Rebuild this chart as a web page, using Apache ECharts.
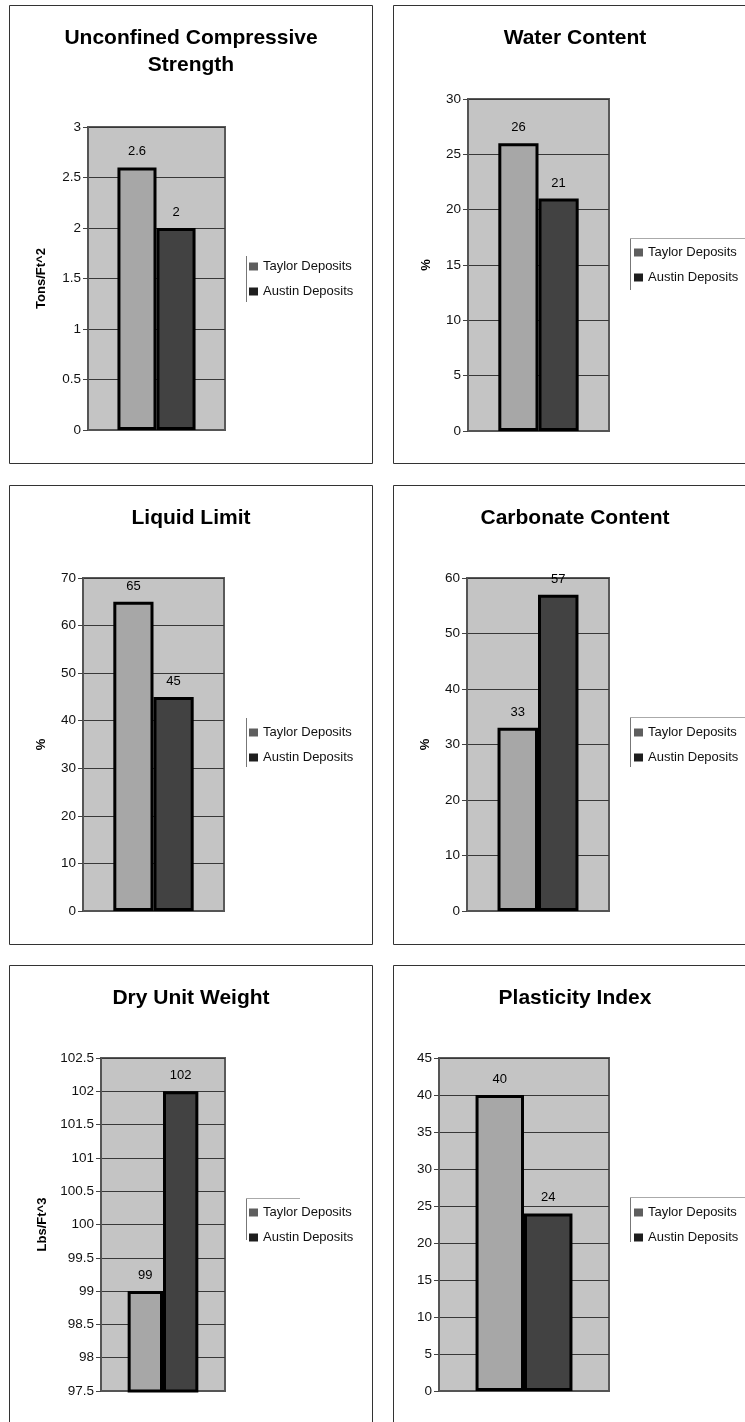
<!DOCTYPE html>
<html>
<head>
<meta charset="utf-8">
<script src="https://cdn.jsdelivr.net/npm/echarts@6/dist/echarts.min.js"></script>
<style>
html,body{margin:0;padding:0;background:#fff;}
#chart{width:745px;height:1422px;}
</style>
</head>
<body>
<div id="chart"></div>
<script>
// ---- data ----
const seriesNames = ['Taylor Deposits', 'Austin Deposits'];
const categories = [''];
const titles = ['Unconfined Compressive\nStrength', 'Water Content', 'Liquid Limit', 'Carbonate Content', 'Dry Unit Weight', 'Plasticity Index'];
const yUnits = ['Tons/Ft^2', '%', '%', '%', 'Lbs/Ft^3', ''];
const taylorValues = [2.6, 26, 65, 33, 99, 40];
const austinValues = [2, 21, 45, 57, 102, 24];
const yMin = [0, 0, 0, 0, 97.5, 0];
const yMax = [3, 30, 70, 60, 102.5, 45];
const yStep = [0.5, 5, 10, 10, 0.5, 5];

// ---- layout (positions / styles) ----
const layout = [
  {box:[9.5,5.5,363,458], title:[191,25], grid:[88,127,137,303], nameGap:40, legend:[249,260], legLine:[246,256,302], legTop:null},
  {box:[393.5,5.5,400,458], title:[575,25], grid:[468,99,141,332], nameGap:35, legend:[634,246], legLine:[630,238,290], legTop:[630,745,238]},
  {box:[9.5,485.5,363,459], title:[191,505], grid:[83,578,141,333], nameGap:35, legend:[249,726], legLine:[246,718,767], legTop:null},
  {box:[393.5,485.5,400,459], title:[575,505], grid:[467,578,142,333], nameGap:35, legend:[634,726], legLine:[630,717,767], legTop:[630,745,717]},
  {box:[9.5,965.5,363,500], title:[191,985], grid:[101,1058,124,333], nameGap:52, legend:[249,1206], legLine:[246,1198,1240], legTop:[246,300,1198]},
  {box:[393.5,965.5,400,500], title:[575,985], grid:[439,1058,170,333], nameGap:36, legend:[634,1206], legLine:[630,1197,1242], legTop:[630,745,1197]}
];
const FONT = '"Liberation Sans", Arial, sans-serif';
const barColors = ['#a7a7a7', '#424242'];
const iconColors = ['#5e5e5e', '#1e1e1e'];

const option = {
  animation: false,
  backgroundColor: '#ffffff',
  textStyle: {fontFamily: FONT},
  title: [], grid: [], xAxis: [], yAxis: [], legend: [], series: [], graphic: []
};

layout.forEach((L, i) => {
  option.title.push({
    text: titles[i], left: L.title[0], top: L.title[1], padding: 0,
    textAlign: 'center',
    textStyle: {fontFamily: FONT, fontSize: 21, fontWeight: 'bold', color: '#000', lineHeight: 27}
  });
  option.grid.push({
    left: L.grid[0], top: L.grid[1], width: L.grid[2], height: L.grid[3],
    show: true, backgroundColor: '#c4c4c4', borderColor: '#5a5a5a', borderWidth: 2
  });
  option.xAxis.push({
    type: 'category', gridIndex: i, data: categories,
    axisLine: {show: true, lineStyle: {color: '#555', width: 2}},
    axisTick: {show: false}, axisLabel: {show: false}, splitLine: {show: false}
  });
  option.yAxis.push({
    type: 'value', gridIndex: i, min: yMin[i], max: yMax[i], interval: yStep[i],
    name: yUnits[i], nameLocation: 'middle', nameGap: L.nameGap, nameRotate: 90,
    nameTextStyle: {fontFamily: FONT, fontSize: 13, fontWeight: 'bold', color: '#000'},
    axisLine: {show: true, lineStyle: {color: '#555', width: 2}},
    axisTick: {show: true, length: 5, lineStyle: {color: '#444'}},
    axisLabel: {fontFamily: FONT, fontSize: 13.5, color: '#111', margin: 7},
    splitLine: {show: true, lineStyle: {color: '#383838', width: 1}}
  });
  option.legend.push({
    orient: 'vertical', left: L.legend[0], top: L.legend[1], padding: 0,
    itemWidth: 9, itemHeight: 8, itemGap: 12, icon: 'rect',
    itemStyle: {borderWidth: 0},
    textStyle: {fontFamily: FONT, fontSize: 13, color: '#111', padding: [0,0,0,0]},
    data: seriesNames.map((n, k) => ({name: n, itemStyle: {color: iconColors[k], borderWidth: 0}})),
    selectedMode: false
  });
  const vals = [taylorValues[i], austinValues[i]];
  seriesNames.forEach((n, k) => {
    option.series.push({
      type: 'bar', name: n, xAxisIndex: i, yAxisIndex: i,
      data: [vals[k]],
      barGap: '0%', barCategoryGap: '43%',
      itemStyle: {color: barColors[k], borderColor: '#000', borderWidth: 3},
      label: {show: true, position: 'top', distance: 9, fontFamily: FONT, fontSize: 13, color: '#000'}
    });
  });
  option.graphic.push({
    type: 'rect', silent: true,
    shape: {x: L.box[0], y: L.box[1], width: L.box[2], height: L.box[3]},
    style: {fill: 'none', stroke: '#333', lineWidth: 1}
  });
  option.graphic.push({
    type: 'line', silent: true,
    shape: {x1: L.legLine[0] + 0.5, y1: L.legLine[1], x2: L.legLine[0] + 0.5, y2: L.legLine[2]},
    style: {stroke: '#777', lineWidth: 1}
  });
  if (L.legTop) {
    option.graphic.push({
      type: 'line', silent: true,
      shape: {x1: L.legTop[0], y1: L.legTop[2] + 0.5, x2: L.legTop[1], y2: L.legTop[2] + 0.5},
      style: {stroke: '#aaa', lineWidth: 1}
    });
  }
});

const chart = echarts.init(document.getElementById('chart'), null, {renderer: 'canvas'});
chart.setOption(option);
</script>
</body>
</html>
